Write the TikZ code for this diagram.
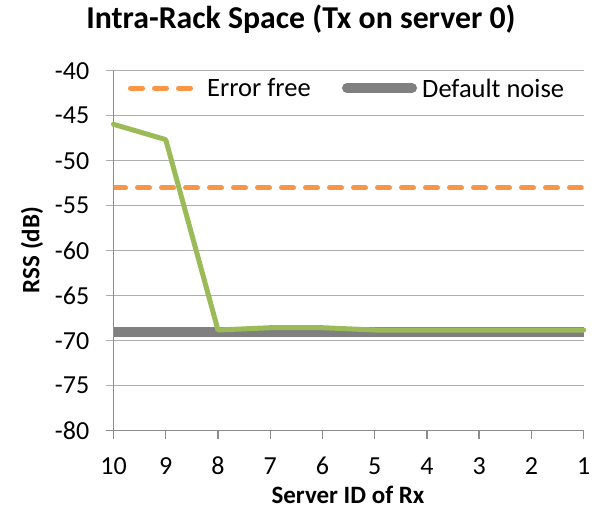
\documentclass[tikz,border=0pt]{standalone}
\usepackage{fontspec}
\setmainfont{Carlito}
\definecolor{grn}{HTML}{9BBB59}
\definecolor{org}{HTML}{F79646}
\definecolor{noisegray}{HTML}{808080}
\definecolor{gridgray}{HTML}{ADADAD}
\definecolor{axisgray}{HTML}{8C8C8C}
\begin{document}
\begin{tikzpicture}[x=1pt,y=-1pt,
  gridline/.style={draw=gridgray,line width=1.4pt},
  axisline/.style={draw=axisgray,line width=1.4pt},
  ticklbl/.style={font=\fontsize{26}{26}\selectfont,inner sep=0pt},
  lgdlbl/.style={font=\fontsize{26.5}{26.5}\selectfont,inner sep=0pt},
  axtitle/.style={font=\fontsize{25}{25}\selectfont\bfseries,inner sep=0pt},
  errline/.style={draw=org,line width=5pt,dash pattern=on 12pt off 12pt,line cap=round},
  noiseline/.style={draw=noisegray,line width=10pt},
  dataline/.style={draw=grn,line width=5pt,line join=round,line cap=round}]
\useasboundingbox (0,0) rectangle (594,520);
% horizontal gridlines and labels
\foreach \v in {-40,-45,-50,-55,-60,-65,-70,-75,-80}{
  \pgfmathsetmacro{\yy}{-289.3-9*\v}
  \draw[gridline] (105.7,\yy) -- (583.7,\yy);
  \node[ticklbl,anchor=east] (yl\v) at (89.5,\yy) {\v};
}
% axes
\draw[axisline] (113.5,70.7) -- (113.5,430.7);
\draw[axisline] (105.7,430.7) -- (583.7,430.7);
% x ticks and labels
\foreach \s in {10,9,...,1}{
  \pgfmathsetmacro{\xx}{113.5+52.24*(10-\s)}
  \draw[axisline] (\xx,430.7) -- (\xx,438.5);
  \node[ticklbl] (xl\s) at (\xx,466) {\s};
}
% series
\coordinate (nA) at (113.5,331.7);
\coordinate (nB) at (583.7,331.7);
\draw[noiseline] (nA) -- (nB);
\coordinate (eA) at (113.5,187.7);
\coordinate (eB) at (583.7,187.7);
\begin{scope}
\clip (113.5,60) rectangle (583.7,440);
\draw[errline] (eA) -- (eB);
\end{scope}
\draw[dataline] (113.5,124.3) -- (165.74,139.6) -- (217.98,330.0) -- (270.22,327.7) -- (322.46,327.7) -- (374.7,330.0) -- (426.94,330.0) -- (479.18,330.0) -- (531.42,330.0) -- (583.66,330.0);
% legend
\coordinate (lgE1) at (130.5,88);
\coordinate (lgE2) at (190.5,88);
\draw[errline] (lgE1) -- (lgE2);
\node[lgdlbl,anchor=west] (lgEt) at (207,88) {Error free};
\coordinate (lgN1) at (347,88);
\coordinate (lgN2) at (412,88);
\draw[noiseline,line cap=round] (lgN1) -- (lgN2);
\node[lgdlbl,anchor=west] (lgNt) at (422,88) {Default noise};
% titles
\node[font=\fontsize{31.8}{31.8}\selectfont\bfseries,inner sep=0pt] (title) at (301,19) {Intra-Rack Space (Tx on server 0)};
\node[axtitle] (xtitle) at (348,495) {Server ID of Rx};
\node[axtitle,rotate=90] (ytitle) at (32,250) {RSS (dB)};
\end{tikzpicture}
\end{document}
